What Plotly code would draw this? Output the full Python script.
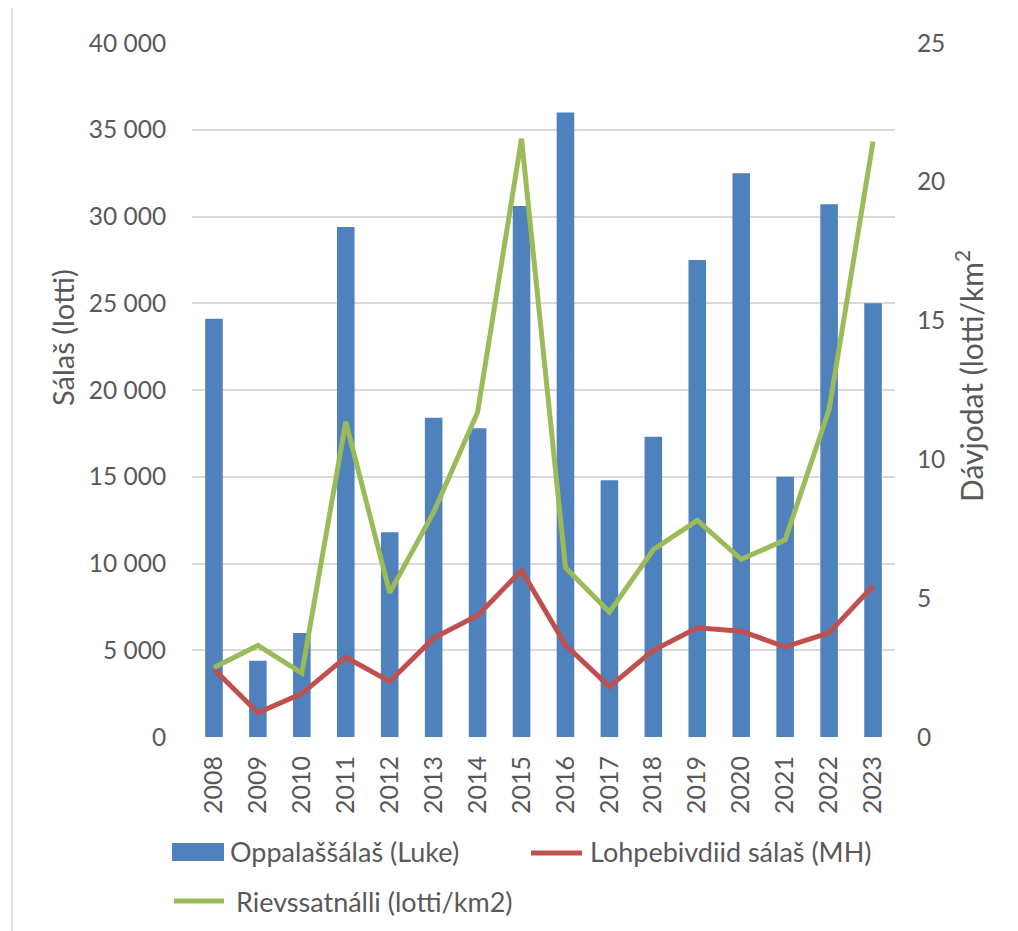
import plotly.graph_objects as go

years = [str(y) for y in range(2008, 2024)]
luke = [24100, 4400, 6000, 29400, 11800, 18400, 17800, 30600, 36000, 14800, 17300, 27500, 32500, 15000, 30700, 25000]
mh = [3900, 1400, 2500, 4600, 3200, 5700, 7000, 9600, 5300, 2900, 5000, 6300, 6100, 5200, 6000, 8700]
density = [2.5, 3.3, 2.3, 11.35, 5.2, 8.1, 11.7, 21.55, 6.1, 4.5, 6.75, 7.8, 6.4, 7.1, 11.8, 21.45]

names = ["Oppalaššálaš (Luke)", "Lohpebivdiid sálaš (MH)", "Rievssatnálli (lotti/km2)"]
colors = ["#4F81BD", "#C0504D", "#9BBB59"]

left_ticks = [0, 5000, 10000, 15000, 20000, 25000, 30000, 35000, 40000]
left_labels = ["0", "5 000", "10 000", "15 000", "20 000", "25 000", "30 000", "35 000", "40 000"]
right_ticks = [0, 5, 10, 15, 20, 25]

FONT = "Lato, Open Sans, sans-serif"
GREY = "#595959"

# page offset (browser body margin) compensation
OFF = 8
W, H = 1018 - OFF, 931 - OFF
PL, PR, PT, PB = 192, 895, 43, 737  # plot area in page pixels


def px(xp):
    return (xp - PL) / (PR - PL)


def py(yp):
    return (PB - yp) / (PB - PT)


fig = go.Figure()
fig.add_trace(go.Bar(x=years, y=luke, name=names[0],
                     marker=dict(color=colors[0], line=dict(width=0)), yaxis="y"))
fig.add_trace(go.Scatter(x=years, y=mh, name=names[1], mode="lines",
                         line=dict(color=colors[1], width=5), yaxis="y"))
fig.add_trace(go.Scatter(x=years, y=density, name=names[2], mode="lines",
                         line=dict(color=colors[2], width=5), yaxis="y2"))

annotations = [
    dict(text="Sálaš (lotti)", textangle=-90, xref="paper", yref="paper",
         x=px(62), y=py(338), showarrow=False,
         font=dict(size=29, color=GREY), xanchor="center", yanchor="middle"),
    dict(text="Dávjodat (lotti/km<sup>2</sup>", textangle=-90, xref="paper", yref="paper",
         x=px(969), y=py(376), showarrow=False,
         font=dict(size=30, color=GREY), xanchor="center", yanchor="middle"),
    dict(text=names[0], xref="paper", yref="paper", x=px(228), y=py(852), showarrow=False,
         xanchor="left", yanchor="middle", font=dict(size=27, color=GREY)),
    dict(text=names[1], xref="paper", yref="paper", x=px(588), y=py(852), showarrow=False,
         xanchor="left", yanchor="middle", font=dict(size=27, color=GREY)),
    dict(text=names[2], xref="paper", yref="paper", x=px(234), y=py(901), showarrow=False,
         xanchor="left", yanchor="middle", font=dict(size=27, color=GREY)),
]

shapes = [
    dict(type="line", xref="paper", yref="paper", x0=px(12), x1=px(12),
         y0=py(0), y1=py(931), line=dict(color="#D9D9D9", width=1.5)),
    dict(type="rect", xref="paper", yref="paper", x0=px(172), x1=px(224),
         y0=py(843), y1=py(861), fillcolor=colors[0], line=dict(width=0)),
    dict(type="line", xref="paper", yref="paper", x0=px(531), x1=px(582),
         y0=py(853), y1=py(853), line=dict(color=colors[1], width=5)),
    dict(type="line", xref="paper", yref="paper", x0=px(174), x1=px(224),
         y0=py(901), y1=py(901), line=dict(color=colors[2], width=5)),
]

fig.update_layout(
    width=W, height=H,
    margin=dict(l=PL - OFF, r=W - (PR - OFF), t=PT - OFF, b=H - (PB - OFF)),
    paper_bgcolor="white", plot_bgcolor="white",
    font=dict(family=FONT, color=GREY, size=22),
    bargap=0.6,
    showlegend=False,
    xaxis=dict(type="category", tickangle=-90, showgrid=False, zeroline=False,
               showline=False, ticks="outside", ticklen=8, tickcolor="rgba(0,0,0,0)",
               tickfont=dict(size=25, color=GREY)),
    yaxis=dict(range=[0, 40000], tickvals=left_ticks, ticktext=left_labels,
               showgrid=True, gridcolor="#D9D9D9", gridwidth=1.5, zeroline=False,
               showline=False, ticks="outside", ticklen=20, tickcolor="rgba(0,0,0,0)",
               tickfont=dict(size=24.5, color=GREY)),
    yaxis2=dict(range=[0, 25], tickvals=right_ticks, overlaying="y", side="right",
                showgrid=False, zeroline=False, showline=False, ticks="outside",
                ticklen=16, tickcolor="rgba(0,0,0,0)", tickfont=dict(size=24.5, color=GREY)),
    annotations=annotations,
    shapes=shapes,
)

fig.write_html("out.html")
